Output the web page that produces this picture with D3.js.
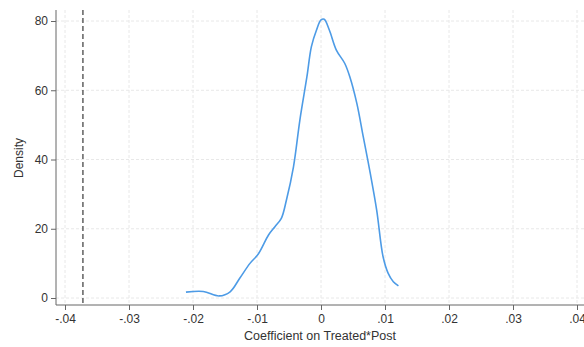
<!DOCTYPE html>
<html>
<head>
<meta charset="utf-8">
<script src="https://cdn.jsdelivr.net/npm/d3@7"></script>
<style>
  body{margin:0;background:#fff;}
  svg{display:block;font-family:"Liberation Sans",Arial,Helvetica,sans-serif;}
</style>
</head>
<body>
<svg id="chart" width="584" height="347"></svg>
<script>
// kernel density of the coefficient estimates
const coefX = [-0.0211,-0.0184,-0.0159,-0.0142,-0.0127,-0.0111,-0.0098,-0.0082,-0.0072,-0.0062,-0.0054,-0.0043,-0.0033,-0.0022,-0.0015,-0.0007,0.0000,0.0005,0.0013,0.0024,0.0037,0.0045,0.0056,0.0066,0.0077,0.0087,0.0097,0.0105,0.0113,0.0121];
const density = [1.7,1.9,0.6,1.8,5.7,10,12.7,18.2,20.6,23,28.3,37.9,51.4,63.9,72.6,77.4,80.3,80.5,77.4,71.6,67.8,63.9,56.2,46.6,36,25.4,11.9,7.1,4.7,3.5];
const refLine = -0.0372;
const xTicks = [-0.04,-0.03,-0.02,-0.01,0,0.01,0.02,0.03,0.04];
const xTickLabels = ['-.04','-.03','-.02','-.01','0','.01','.02','.03','.04'];
const yTicks = [0,20,40,60,80];

const svg = d3.select('#chart');
const x = d3.scaleLinear().domain([-0.04,0.04]).range([65,577]);
const y = d3.scaleLinear().domain([0,80]).range([298,21]);
const axisY = 305, axisX = 56, plotTop = 10, plotRight = 584;

// grid
const grid = svg.append('g').attr('stroke','#e8e8e8').attr('stroke-width',1).attr('stroke-dasharray','3,2');
grid.selectAll('line.h').data(yTicks).join('line').attr('class','h')
  .attr('x1',axisX).attr('x2',plotRight).attr('y1',d=>y(d)).attr('y2',d=>y(d));
grid.selectAll('line.v').data(xTicks).join('line').attr('class','v')
  .attr('y1',plotTop).attr('y2',axisY).attr('x1',d=>x(d)).attr('x2',d=>x(d));

// axes
const xAxis = svg.append('g').attr('transform',`translate(0,${axisY})`)
  .call(d3.axisBottom(x).tickValues(xTicks).tickFormat((d,i)=>xTickLabels[i]).tickSize(5).tickSizeOuter(0));
xAxis.select('.domain').attr('d',`M${axisX},0H${plotRight}`);
const yAxis = svg.append('g').attr('transform',`translate(${axisX},0)`)
  .call(d3.axisLeft(y).tickValues(yTicks).tickSize(5).tickSizeOuter(0));
yAxis.select('.domain').attr('d',`M0,${plotTop}V${axisY}`);
svg.selectAll('.domain, .tick line').attr('stroke','#666');
svg.selectAll('.tick text').attr('fill','#333').attr('font-size',12);
xAxis.selectAll('.tick text').attr('dy','0.8em');

// reference line
svg.append('line').attr('x1',x(refLine)).attr('x2',x(refLine)).attr('y1',plotTop).attr('y2',axisY)
  .attr('stroke','#555').attr('stroke-width',1.4).attr('stroke-dasharray','5,3');

// density curve
svg.append('path').datum(coefX.map((v,i)=>[v,density[i]]))
  .attr('fill','none').attr('stroke','#4d9be6').attr('stroke-width',1.6)
  .attr('d',d3.line().x(d=>x(d[0])).y(d=>y(d[1])).curve(d3.curveCatmullRom));

// titles
svg.append('text').attr('x',320).attr('y',340).attr('text-anchor','middle')
  .attr('font-size',12.5).attr('fill','#333').text('Coefficient on Treated*Post');
svg.append('text').attr('transform','translate(23,158) rotate(-90)').attr('text-anchor','middle')
  .attr('font-size',12).attr('fill','#333').text('Density');
</script>
</body>
</html>
